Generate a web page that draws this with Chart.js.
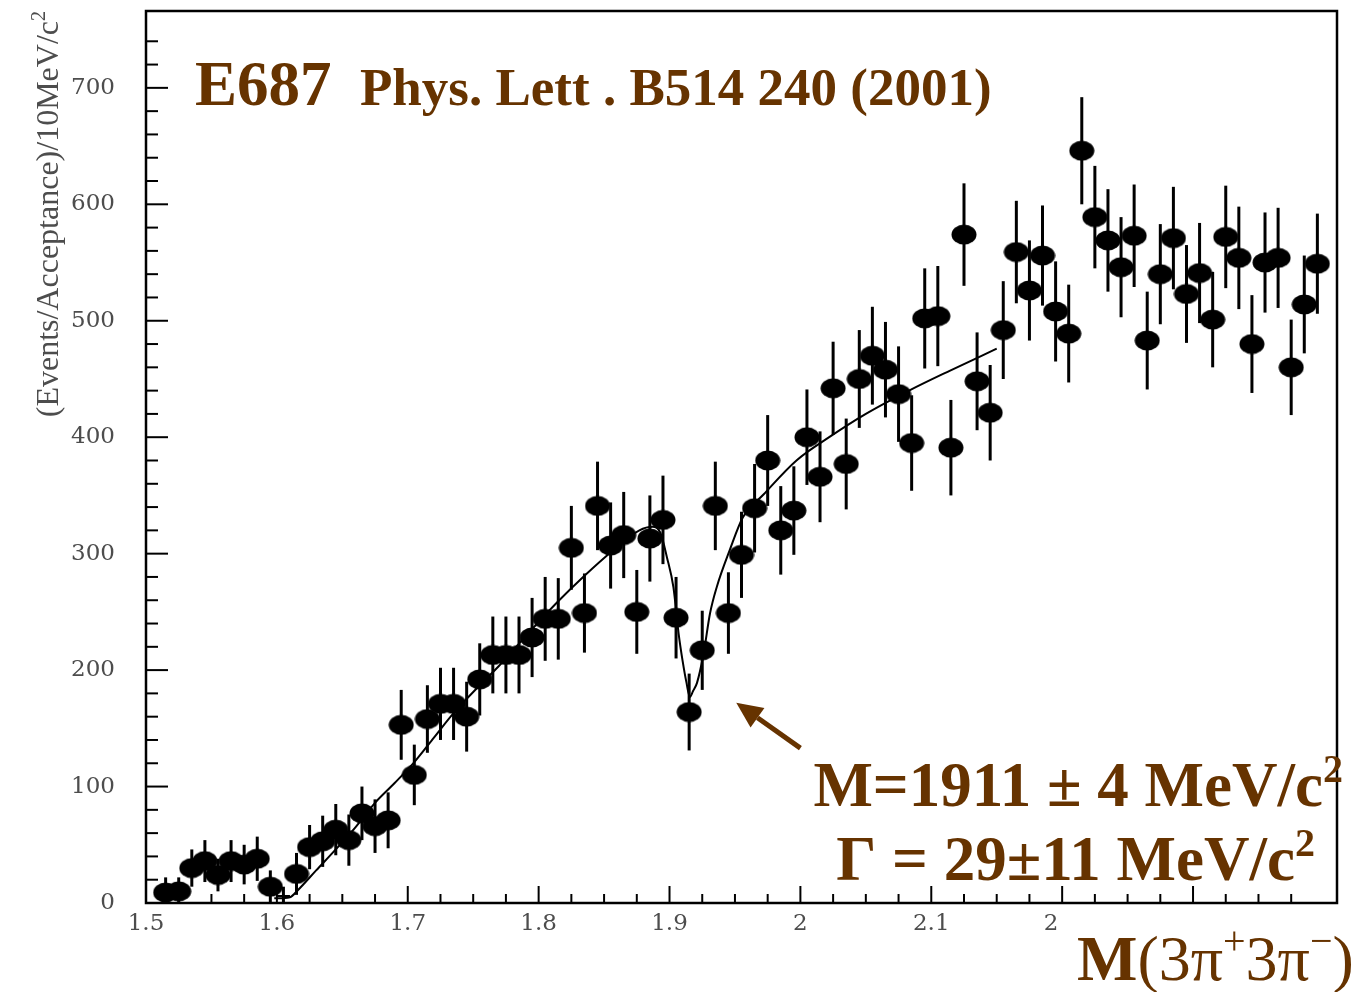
<!DOCTYPE html>
<html>
<head>
<meta charset="utf-8">
<title>E687 M(3π+3π−)</title>
<script src="https://cdn.jsdelivr.net/npm/chart.js@4.4.1/dist/chart.umd.min.js"></script>
<style>
  html, body { margin: 0; padding: 0; background: #fff; }
  #wrap { width: 1363px; height: 992px; }
</style>
</head>
<body>
<div id="wrap"><canvas id="massChart" width="1363" height="992"></canvas></div>
<script>
// 10 MeV bins, centre in GeV/c^2
const massBins = [
  1.515, 1.525, 1.535, 1.545, 1.555, 1.565, 1.575, 1.585, 1.595, 1.605,
  1.615, 1.625, 1.635, 1.645, 1.655, 1.665, 1.675, 1.685, 1.695, 1.705,
  1.715, 1.725, 1.735, 1.745, 1.755, 1.765, 1.775, 1.785, 1.795, 1.805,
  1.815, 1.825, 1.835, 1.845, 1.855, 1.865, 1.875, 1.885, 1.895, 1.905,
  1.915, 1.925, 1.935, 1.945, 1.955, 1.965, 1.975, 1.985, 1.995, 2.005,
  2.015, 2.025, 2.035, 2.045, 2.055, 2.065, 2.075, 2.085, 2.095, 2.105,
  2.115, 2.125, 2.135, 2.145, 2.155, 2.165, 2.175, 2.185, 2.195, 2.205,
  2.215, 2.225, 2.235, 2.245, 2.255, 2.265, 2.275, 2.285, 2.295, 2.305,
  2.315, 2.325, 2.335, 2.345, 2.355, 2.365, 2.375, 2.385, 2.395
];

// acceptance corrected events per bin
const events = [
  9, 10, 30, 36, 24, 36, 33, 38, 14, 6,
  25, 48, 53, 63, 54, 77, 66, 71, 153, 110,
  158, 171, 171, 160, 192, 213, 213, 213, 228, 244,
  244, 305, 249, 341, 307, 316, 250, 313, 329, 245,
  164, 217, 341, 249, 299, 339, 380, 320, 337, 400,
  366, 442, 377, 450, 470, 458, 437, 395, 502, 504,
  391, 574, 448, 421, 492, 559, 526, 556, 508, 489,
  646, 589, 569, 546, 573, 483, 540, 571, 523, 541,
  501, 572, 554, 480, 550, 554, 460, 514, 549
];

const errors = [
  13, 12, 16, 18, 14, 18, 17, 19, 14, 8,
  18, 19, 22, 22, 22, 23, 23, 24, 30, 26,
  29, 31, 31, 30, 31, 33, 33, 33, 34, 36,
  35, 36, 34, 38, 37, 37, 36, 37, 38, 35,
  33, 34, 38, 35, 37, 38, 39, 38, 38, 41,
  39, 40, 39, 42, 42, 41, 41, 41, 43, 43,
  41, 44, 42, 41, 42, 44, 43, 43, 43, 42,
  46, 44, 44, 43, 44, 42, 43, 44, 42, 43,
  41, 44, 44, 42, 43, 43, 41, 42, 43
];

// bins drawn as a bare cross, without the filled marker
const bareBins = [1.605];

// fitted curve (threshold background with interfering dip)
const fitMass = [
  1.598, 1.610, 1.616, 1.630, 1.645, 1.660, 1.675, 1.690, 1.705, 1.720,
  1.735, 1.755, 1.770, 1.790, 1.814, 1.834, 1.857, 1.877, 1.887, 1.893,
  1.898, 1.903, 1.907, 1.910, 1.913, 1.9155, 1.918, 1.921, 1.926, 1.931,
  1.936, 1.946, 1.956, 1.972, 1.997, 2.022, 2.050, 2.083, 2.114, 2.150
];
const fitEvents = [
  4, 5, 11, 28, 46, 65, 86, 103, 121, 142,
  163, 187, 204, 229, 258, 280, 303, 320, 323, 318,
  297, 271, 231, 208, 189, 177, 182, 189, 214, 249,
  271, 303, 331, 351, 380, 400, 420, 440, 457, 476
];

const xTickValues = [1.5, 1.6, 1.7, 1.8, 1.9, 2.0, 2.1, 2.2];
const xTickLabels = ['1.5', '1.6', '1.7', '1.8', '1.9', '2', '2.1', '2   '];
const yTickValues = [0, 100, 200, 300, 400, 500, 600, 700];
const yTickLabels = ['0', '100', '200', '300', '400', '500', '600', '700'];

// arrow pointing at the dip, in axis units
const arrowFrom = { x: 2.0, y: 133 };
const arrowTo = { x: 1.951, y: 172 };

const BROWN = '#663300';
const GREY = '#4d4d4d';
const SERIF = '"Liberation Serif", "Times New Roman", serif';
const TICK_FONT = { family: '"DejaVu Serif", serif', size: 23 };

function onStep(v, step) {
  const k = v / step;
  return Math.abs(k - Math.round(k)) < 1e-6;
}

function makeMarker() {
  const c = document.createElement('canvas');
  c.width = 26;
  c.height = 21;
  const g = c.getContext('2d');
  g.fillStyle = '#000';
  g.beginPath();
  g.ellipse(13, 10.5, 12.5, 10, 0, 0, Math.PI * 2);
  g.fill();
  return c;
}

// text made of pieces: [text, font, baseline shift]
function drawPieces(ctx, pieces, x, y, align) {
  let total = 0;
  pieces.forEach(p => { ctx.font = p[1]; total += ctx.measureText(p[0]).width; });
  let cx = align === 'right' ? x - total : x;
  ctx.textAlign = 'left';
  pieces.forEach(p => {
    ctx.font = p[1];
    ctx.fillText(p[0], cx, y + (p[2] || 0));
    cx += ctx.measureText(p[0]).width;
  });
}

const errorBars = {
  id: 'errorBars',
  beforeDatasetsDraw(chart) {
    const { ctx, scales: { x, y } } = chart;
    const meta = chart.getDatasetMeta(0);
    ctx.save();
    ctx.strokeStyle = '#000';
    ctx.lineWidth = 3;
    meta.data.forEach((pt, i) => {
      const lo = y.getPixelForValue(Math.max(0, events[i] - errors[i]));
      const hi = y.getPixelForValue(events[i] + errors[i]);
      ctx.beginPath();
      ctx.moveTo(pt.x, lo);
      ctx.lineTo(pt.x, hi);
      ctx.stroke();
      if (bareBins.includes(massBins[i])) {
        ctx.lineWidth = 2;
        ctx.beginPath();
        ctx.moveTo(x.getPixelForValue(massBins[i] - 0.005), pt.y);
        ctx.lineTo(x.getPixelForValue(massBins[i] + 0.005), pt.y);
        ctx.stroke();
        ctx.lineWidth = 3;
      }
    });
    ctx.restore();
  }
};

// ROOT style frame with ticks pointing into the plot
const frameTicks = {
  id: 'frameTicks',
  afterDatasetsDraw(chart) {
    const { ctx, chartArea: a, scales: { x, y } } = chart;
    ctx.save();
    ctx.strokeStyle = '#000';
    ctx.lineWidth = 2;
    x.ticks.forEach(t => {
      if (!onStep(t.value, 0.025) || t.value > 2.4001) return;
      const px = x.getPixelForValue(t.value);
      const len = onStep(t.value, 0.1) ? 17 : 9;
      ctx.beginPath();
      ctx.moveTo(px, a.bottom);
      ctx.lineTo(px, a.bottom - len);
      ctx.stroke();
    });
    y.ticks.forEach(t => {
      if (!onStep(t.value, 20)) return;
      const py = y.getPixelForValue(t.value);
      const len = onStep(t.value, 100) ? 22 : 12;
      ctx.beginPath();
      ctx.moveTo(a.left, py);
      ctx.lineTo(a.left + len, py);
      ctx.stroke();
    });
    ctx.lineWidth = 2.5;
    ctx.strokeRect(a.left, a.top, a.right - a.left, a.bottom - a.top);
    ctx.restore();
  }
};

const annotations = {
  id: 'annotations',
  afterDraw(chart) {
    const { ctx, scales: { x, y } } = chart;
    ctx.save();
    ctx.textBaseline = 'alphabetic';

    // axis titles
    ctx.fillStyle = GREY;
    ctx.save();
    ctx.translate(47, 0);
    ctx.rotate(-Math.PI / 2);
    drawPieces(ctx, [
      ['(Events/Acceptance)/10MeV/c', '32px ' + SERIF, 0],
      ['2', '20px ' + SERIF, -13]
    ], -11, 11, 'right');
    ctx.restore();

    ctx.fillStyle = BROWN;
    drawPieces(ctx, [
      ['M', 'bold 64px ' + SERIF, 0],
      ['(3π', '64px ' + SERIF, 0],
      ['+', '40px ' + SERIF, -26],
      ['3π', '64px ' + SERIF, 0],
      ['−', '40px ' + SERIF, -26],
      [')', '64px ' + SERIF, 0]
    ], 1077, 980, 'left');

    // experiment and reference
    drawPieces(ctx, [['E687', 'bold 63px ' + SERIF, 0]], 195, 105, 'left');
    drawPieces(ctx, [['Phys. Lett . B514 240 (2001)', 'bold 53px ' + SERIF, 0]], 360, 105, 'left');

    // fitted resonance parameters
    drawPieces(ctx, [
      ['M=1911 ± 4 MeV/c', 'bold 63px ' + SERIF, 0],
      ['2', 'bold 40px ' + SERIF, -24]
    ], 1343, 806, 'right');
    drawPieces(ctx, [
      ['Γ = 29±11 MeV/c', 'bold 63px ' + SERIF, 0],
      ['2', 'bold 40px ' + SERIF, -24]
    ], 1315, 880, 'right');

    // arrow to the dip
    const x0 = x.getPixelForValue(arrowFrom.x), y0 = y.getPixelForValue(arrowFrom.y);
    const x1 = x.getPixelForValue(arrowTo.x), y1 = y.getPixelForValue(arrowTo.y);
    const ang = Math.atan2(y1 - y0, x1 - x0);
    const head = 26, half = 12;
    const bx = x1 - head * Math.cos(ang), by = y1 - head * Math.sin(ang);
    ctx.strokeStyle = BROWN;
    ctx.lineWidth = 5;
    ctx.beginPath();
    ctx.moveTo(x0, y0);
    ctx.lineTo(bx, by);
    ctx.stroke();
    ctx.beginPath();
    ctx.moveTo(x1, y1);
    ctx.lineTo(bx + half * Math.sin(ang), by - half * Math.cos(ang));
    ctx.lineTo(bx - half * Math.sin(ang), by + half * Math.cos(ang));
    ctx.closePath();
    ctx.fill();

    ctx.restore();
  }
};

const marker = makeMarker();

new Chart(document.getElementById('massChart'), {
  type: 'scatter',
  data: {
    datasets: [
      {
        label: 'E687 data',
        data: massBins.map((m, i) => ({ x: m, y: events[i] })),
        pointStyle: marker,
        pointRadius: massBins.map(m => bareBins.includes(m) ? 0 : 10),
        backgroundColor: '#000',
        borderColor: '#000'
      },
      {
        label: 'fit',
        type: 'line',
        data: fitMass.map((m, i) => ({ x: m, y: fitEvents[i] })),
        borderColor: '#000',
        borderWidth: 2,
        pointRadius: 0,
        fill: false,
        cubicInterpolationMode: 'monotone'
      }
    ]
  },
  options: {
    responsive: false,
    animation: false,
    layout: { padding: { left: 0, top: 10, right: 26, bottom: 0 } },
    plugins: {
      legend: { display: false },
      tooltip: { enabled: false }
    },
    scales: {
      x: {
        type: 'linear',
        min: 1.5,
        max: 2.41,
        afterFit(s) { s.height = 89; s.paddingLeft = 0; s.paddingRight = 0; },
        grid: { display: false, drawTicks: false },
        border: { display: false },
        ticks: {
          stepSize: 0.025,
          autoSkip: false,
          maxRotation: 0,
          padding: 7,
          color: GREY,
          font: TICK_FONT,
          callback(v) {
            const k = xTickValues.findIndex(t => Math.abs(t - v) < 1e-6);
            return k >= 0 ? xTickLabels[k] : '';
          }
        }
      },
      y: {
        type: 'linear',
        min: 0,
        max: 766,
        afterFit(s) { s.width = 146; s.paddingTop = 0; s.paddingBottom = 0; },
        grid: { display: false, drawTicks: false },
        border: { display: false },
        ticks: {
          stepSize: 20,
          autoSkip: false,
          padding: 31,
          color: GREY,
          font: TICK_FONT,
          callback(v) {
            const k = yTickValues.findIndex(t => Math.abs(t - v) < 1e-6);
            return k >= 0 ? yTickLabels[k] : '';
          }
        }
      }
    }
  },
  plugins: [errorBars, frameTicks, annotations]
});
</script>
</body>
</html>
